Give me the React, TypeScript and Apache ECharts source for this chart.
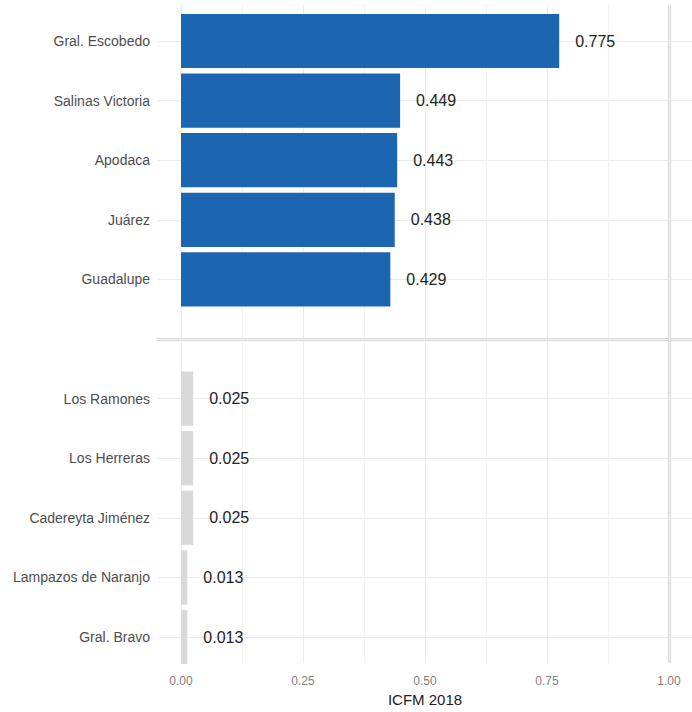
import React, { useEffect, useRef } from "react";
import * as echarts from "echarts";

const categories = [
  "Gral. Escobedo",
  "Salinas Victoria",
  "Apodaca",
  "Juárez",
  "Guadalupe",
  " ",
  "Los Ramones",
  "Los Herreras",
  "Cadereyta Jiménez",
  "Lampazos de Naranjo",
  "Gral. Bravo",
];
const values: (number | null)[] = [0.775, 0.449, 0.443, 0.438, 0.429, null, 0.025, 0.025, 0.025, 0.013, 0.013];
const groups = ["top", "top", "top", "top", "top", "", "bottom", "bottom", "bottom", "bottom", "bottom"];
const xTicks = [0, 0.25, 0.5, 0.75, 1];
const xTitle = "ICFM 2018";

const BLUE = "#1c65b1";
const GREY = "#d9d9d9";
const FONT = "Liberation Sans, Arial, sans-serif";

export default function App() {
  const ref = useRef<HTMLDivElement>(null);
  useEffect(() => {
    document.body.style.margin = "0";
    if (!ref.current) return;
    const chart = echarts.init(ref.current, undefined, { renderer: "svg" });
    const sepIndex = groups.indexOf("");
    const option: any = {
      animation: false,
      backgroundColor: "#ffffff",
      grid: [
        { left: 157, right: 0, top: 41, height: 596 },
        { left: 181, width: 488, top: 5, height: 668 },
        { left: 181, width: 488, top: 11.2, height: 655.6 },
      ],
      xAxis: [
        { gridIndex: 0, type: "value", min: 0, max: 1, show: false },
        {
          gridIndex: 1,
          type: "value",
          min: xTicks[0],
          max: xTicks[xTicks.length - 1],
          interval: 0.25,
          axisLine: { show: false },
          axisTick: { show: false },
          axisLabel: {
            color: "#808080",
            fontSize: 12,
            fontFamily: FONT,
            margin: 12,
            formatter: (v: number) => v.toFixed(2),
          },
          splitLine: { show: true, lineStyle: { color: "#ebebeb", width: 1 } },
          minorTick: { show: false, splitNumber: 2 },
          minorSplitLine: { show: true, lineStyle: { color: "#f3f3f3", width: 1 } },
          name: xTitle,
          nameLocation: "middle",
          nameGap: 27,
          nameTextStyle: { color: "#222222", fontSize: 15, fontFamily: FONT },
        },
        { gridIndex: 2, type: "value", min: 0, max: 1, show: false },
      ],
      yAxis: [
        {
          gridIndex: 0,
          type: "category",
          inverse: true,
          boundaryGap: false,
          data: categories,
          axisLine: { show: false },
          axisTick: { show: false },
          axisLabel: { color: "#4d4d4d", fontSize: 14, fontFamily: FONT, margin: 7 },
          splitLine: { show: true, lineStyle: { color: "#ebebeb", width: 1 } },
        },
        { gridIndex: 1, type: "value", min: 0, max: 1, show: false },
        {
          gridIndex: 2,
          type: "category",
          inverse: true,
          data: categories,
          show: false,
        },
      ],
      series: [
        {
          type: "line",
          xAxisIndex: 0,
          yAxisIndex: 0,
          data: [],
          silent: true,
          markLine: {
            symbol: "none",
            silent: true,
            label: { show: false },
            data: [
              { yAxis: sepIndex, lineStyle: { color: "#d6d6d6", width: 3, type: "solid" } },
              { yAxis: sepIndex, lineStyle: { color: "#f7f7f7", width: 1, type: "solid" } },
            ],
          },
        },
        {
          type: "line",
          xAxisIndex: 1,
          yAxisIndex: 1,
          data: [],
          silent: true,
          markLine: {
            symbol: "none",
            silent: true,
            label: { show: false },
            data: [
              { xAxis: 1, lineStyle: { color: "#d6d6d6", width: 3, type: "solid" } },
              { xAxis: 1, lineStyle: { color: "#f7f7f7", width: 1, type: "solid" } },
            ],
          },
        },
        {
          type: "bar",
          xAxisIndex: 2,
          yAxisIndex: 2,
          barCategoryGap: "9%",
          data: values.map((v, i) => ({
            value: v,
            itemStyle: { color: groups[i] === "top" ? BLUE : GREY },
          })),
          label: {
            show: true,
            position: "right",
            distance: 16,
            color: "#222222",
            fontSize: 16,
            fontFamily: FONT,
            formatter: (p: any) => (p.value == null ? "" : Number(p.value).toFixed(3)),
          },
          z: 5,
        },
      ],
    };
    chart.setOption(option);
    return () => chart.dispose();
  }, []);
  return <div ref={ref} style={{ width: 692, height: 712 }} />;
}
